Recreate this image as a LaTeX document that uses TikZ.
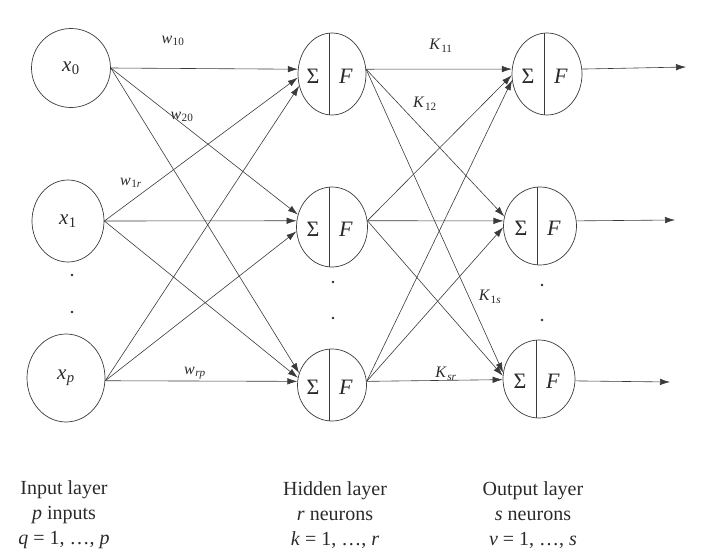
\documentclass[tikz,border=0pt]{standalone}
\usepackage{fontspec}
\setmainfont{Liberation Serif}
\usetikzlibrary{arrows.meta,shapes.geometric}
\definecolor{linec}{HTML}{3A3A3A}
\definecolor{txtc}{HTML}{2A2A2A}
\newcommand{\myvar}[2]{\textit{#1}\kern0.5pt\textsubscript{#2}}
\begin{document}
\begin{tikzpicture}[x=1pt,y=-1pt,
  inp/.style={draw=linec, ellipse, inner sep=0pt, line width=0.7pt, text=txtc, font=\fontsize{21}{23}\selectfont},
  neur/.style={draw=linec, ellipse, inner sep=0pt, line width=0.7pt},
  sym/.style={text=txtc, inner sep=0pt, font=\fontsize{22}{24}\selectfont},
  conn/.style={draw=linec, line width=0.6pt, -{Latex[length=10pt,width=6.5pt]}},
  wlab/.style={text=txtc, inner sep=1pt, font=\fontsize{16}{18}\selectfont},
  captext/.style={text=txtc, align=center, font=\fontsize{20}{25}\selectfont},
  dotc/.style={fill=txtc}
]
\useasboundingbox (0,0) rectangle (728,554);

% input layer
\node[inp, minimum width=79pt, minimum height=79pt] (x0) at (71,68) {\myvar{x}{0}};
\node[inp, minimum width=72pt, minimum height=82pt] (x1) at (68,221) {\myvar{x}{1}};
\node[inp, minimum width=78pt, minimum height=88pt] (xp) at (66,378) {\myvar{x}{\textit{p}}};

% hidden and output neurons
\foreach \n/\x/\y/\w/\hh in {h1/332/74/68/82, h2/332/227/71/80, h3/332/385/69/72,
                             o1/547/74/70/82, o2/540/226/73/78, o3/539/379/72/78}{
  \node[neur, minimum width=\w pt, minimum height=\hh pt] (\n) at (\x,\y) {};
  \draw[linec, line width=0.7pt] ([xshift=-3pt]\n.north) -- ([xshift=-3pt]\n.south);
  \node[sym] at ([xshift=-19pt,yshift=-2pt]\n.center) {Σ};
  \node[sym] at ([xshift=14pt,yshift=-2pt]\n.center) {\textit{F}};
}

% connections input -> hidden
\draw[conn] (x0.east) -- (h1.172);
\draw[conn] (x1.east) -- (h1.186);
\draw[conn] (xp.356) -- (h1.200);
\draw[conn] (x0.east) -- (h2.160);
\draw[conn] (x1.east) -- (h2.170);
\draw[conn] (xp.356) -- (h2.187);
\draw[conn] (x0.east) -- (h3.160);
\draw[conn] (x1.east) -- (h3.168);
\draw[conn] (xp.356) -- (h3.174);

% connections hidden -> output
\draw[conn] (h1.8) -- (o1.172);
\draw[conn] (h2.10) -- (o1.182);
\draw[conn] (h3.6) -- (o1.190);
\draw[conn] (h1.8) -- (o2.165);
\draw[conn] (h2.10) -- (o2.172);
\draw[conn] (h3.6) -- (o2.182);
\draw[conn] (h1.8) -- (o3.170);
\draw[conn] (h2.10) -- (o3.175);
\draw[conn] (h3.6) -- (o3.181);

% outputs
\coordinate (e1) at (686,67);
\coordinate (e2) at (675,220);
\coordinate (e3) at (670,382);
\draw[conn] (o1.8) -- (e1);
\draw[conn] (o2.8) -- (e2);
\draw[conn] (o3.357) -- (e3);

% weight labels
\node[wlab] (lw10) at (173,41) {\myvar{w}{10}};
\node[wlab] (lw20) at (182,117) {\myvar{w}{20}};
\node[wlab] (lw1r) at (131,183) {\myvar{w}{1\textit{r}}};
\node[wlab] (lwrp) at (195,373) {\myvar{w}{\textit{rp}}};
\node[wlab] (lk11) at (441,46) {\myvar{K}{11}};
\node[wlab] (lk12) at (425,104) {\myvar{K}{12}};
\node[wlab] (lk1s) at (490,297) {\myvar{K}{1\textit{s}}};
\node[wlab] (lksr) at (446,374) {\myvar{K}{\textit{sr}}};

% dots
\fill[dotc] (72,275) circle (1.3pt);
\fill[dotc] (72,312) circle (1.3pt);
\fill[dotc] (333,282) circle (1.3pt);
\fill[dotc] (333,318) circle (1.3pt);
\fill[dotc] (542,285) circle (1.3pt);
\fill[dotc] (542,320) circle (1.3pt);

% captions
\node[captext] (cin) at (64,515) {Input layer\\\textit{p} inputs\\\textit{q} = 1, \dots, \textit{p}};
\node[captext] (chid) at (335,515) {Hidden layer\\\textit{r} neurons\\\textit{k} = 1, \dots, \textit{r}};
\node[captext] (cout) at (533,515) {Output layer\\\textit{s} neurons\\\textit{v} = 1, \dots, \textit{s}};
\end{tikzpicture}
\end{document}
